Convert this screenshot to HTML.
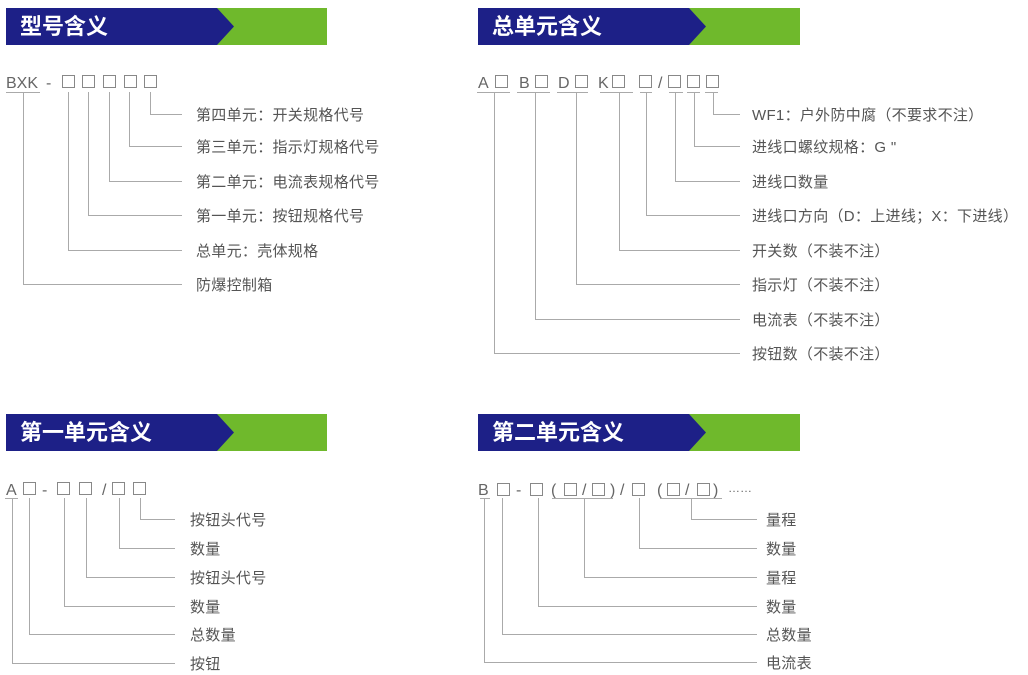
<!DOCTYPE html>
<html><head><meta charset="utf-8"><style>
html,body{margin:0;padding:0;background:#fff;}
svg{display:block;}
.t{font-family:"Liberation Sans","Noto Sans CJK SC",sans-serif;font-size:15px;fill:#555;letter-spacing:0.3px;}
.c{font-family:"Liberation Sans","Noto Sans CJK SC",sans-serif;font-size:16px;fill:#666;}
.h{font-family:"Liberation Sans","Noto Sans CJK SC",sans-serif;font-size:22px;font-weight:bold;fill:#fff;}
.l{stroke:#aaa;stroke-width:1;fill:none;}
.b{stroke:#888;stroke-width:1;fill:none;}
</style></head><body>
<svg width="1028" height="675" viewBox="0 0 1028 675" xmlns="http://www.w3.org/2000/svg">
<g>
<rect x="6" y="8" width="321" height="37" fill="#6fb92c"/>
<polygon points="6,8 217,8 234,26.5 217,45 6,45" fill="#1d2087"/>
<text class="h" x="20" y="34">型号含义</text>
</g>
<g>
<rect x="478" y="8" width="322" height="37" fill="#6fb92c"/>
<polygon points="478,8 689,8 706,26.5 689,45 478,45" fill="#1d2087"/>
<text class="h" x="492" y="34">总单元含义</text>
</g>
<g>
<rect x="6" y="414" width="321" height="37" fill="#6fb92c"/>
<polygon points="6,414 217,414 234,432.5 217,451 6,451" fill="#1d2087"/>
<text class="h" x="20" y="440">第一单元含义</text>
</g>
<g>
<rect x="478" y="414" width="322" height="37" fill="#6fb92c"/>
<polygon points="478,414 689,414 706,432.5 689,451 478,451" fill="#1d2087"/>
<text class="h" x="492" y="440">第二单元含义</text>
</g>

<!-- Section 1 -->
<text class="c" x="6" y="88">BXK</text>
<text class="c" x="46" y="88">-</text>
<rect class="b" x="62.5" y="75.5" width="12" height="12"/>
<rect class="b" x="82.5" y="75.5" width="12" height="12"/>
<rect class="b" x="103.5" y="75.5" width="12" height="12"/>
<rect class="b" x="124.5" y="75.5" width="12" height="12"/>
<rect class="b" x="144.5" y="75.5" width="12" height="12"/>
<line class="l" x1="6" y1="92.5" x2="40" y2="92.5"/>
<path class="l" d="M150.5 92 V114.5 H182"/>
<path class="l" d="M129.5 92 V146.5 H182"/>
<path class="l" d="M109.5 92 V181.5 H182"/>
<path class="l" d="M88.5 92 V215.5 H182"/>
<path class="l" d="M68.5 92 V250.5 H182"/>
<path class="l" d="M23.5 92 V284.5 H182"/>
<text class="t" x="196" y="120">第四单元：开关规格代号</text>
<text class="t" x="196" y="152">第三单元：指示灯规格代号</text>
<text class="t" x="196" y="187">第二单元：电流表规格代号</text>
<text class="t" x="196" y="221">第一单元：按钮规格代号</text>
<text class="t" x="196" y="256">总单元：壳体规格</text>
<text class="t" x="196" y="290">防爆控制箱</text>

<!-- Section 2 -->
<text class="c" x="478" y="88">A</text>
<rect class="b" x="495.5" y="75.5" width="12" height="12"/>
<text class="c" x="519" y="88">B</text>
<rect class="b" x="535.5" y="75.5" width="12" height="12"/>
<text class="c" x="558" y="88">D</text>
<rect class="b" x="575.5" y="75.5" width="12" height="12"/>
<text class="c" x="598" y="88">K</text>
<rect class="b" x="612.5" y="75.5" width="12" height="12"/>
<rect class="b" x="639.5" y="75.5" width="12" height="12"/>
<text class="c" x="658" y="88">/</text>
<rect class="b" x="668.5" y="75.5" width="12" height="12"/>
<rect class="b" x="687.5" y="75.5" width="12" height="12"/>
<rect class="b" x="706.5" y="75.5" width="12" height="12"/>
<line class="l" x1="477" y1="92.5" x2="510" y2="92.5"/>
<line class="l" x1="517" y1="92.5" x2="550" y2="92.5"/>
<line class="l" x1="557" y1="92.5" x2="588" y2="92.5"/>
<line class="l" x1="600" y1="92.5" x2="633" y2="92.5"/>
<line class="l" x1="640" y1="92.5" x2="652" y2="92.5"/>
<line class="l" x1="669" y1="92.5" x2="683" y2="92.5"/>
<line class="l" x1="687" y1="92.5" x2="700" y2="92.5"/>
<line class="l" x1="705" y1="92.5" x2="718" y2="92.5"/>
<path class="l" d="M713.5 92 V114.5 H740"/>
<path class="l" d="M694.5 92 V146.5 H740"/>
<path class="l" d="M675.5 92 V181.5 H740"/>
<path class="l" d="M646.5 92 V215.5 H740"/>
<path class="l" d="M619.5 92 V250.5 H740"/>
<path class="l" d="M576.5 92 V284.5 H740"/>
<path class="l" d="M535.5 92 V319.5 H740"/>
<path class="l" d="M494.5 92 V353.5 H740"/>
<text class="t" x="752" y="120">WF1：户外防中腐（不要求不注）</text>
<text class="t" x="752" y="152">进线口螺纹规格：G "</text>
<text class="t" x="752" y="187">进线口数量</text>
<text class="t" x="752" y="221">进线口方向（D：上进线；X：下进线）</text>
<text class="t" x="752" y="256">开关数（不装不注）</text>
<text class="t" x="752" y="290">指示灯（不装不注）</text>
<text class="t" x="752" y="325">电流表（不装不注）</text>
<text class="t" x="752" y="359">按钮数（不装不注）</text>

<!-- Section 3 -->
<text class="c" x="6" y="495">A</text>
<rect class="b" x="23.5" y="482.5" width="12" height="12"/>
<text class="c" x="42" y="495">-</text>
<rect class="b" x="57.5" y="482.5" width="12" height="12"/>
<rect class="b" x="79.5" y="482.5" width="12" height="12"/>
<text class="c" x="102" y="495">/</text>
<rect class="b" x="112.5" y="482.5" width="12" height="12"/>
<rect class="b" x="133.5" y="482.5" width="12" height="12"/>
<line class="l" x1="5" y1="498.5" x2="18" y2="498.5"/>
<path class="l" d="M140.5 498 V519.5 H175"/>
<path class="l" d="M119.5 498 V548.5 H175"/>
<path class="l" d="M86.5 498 V577.5 H175"/>
<path class="l" d="M64.5 498 V606.5 H175"/>
<path class="l" d="M29.5 498 V634.5 H175"/>
<path class="l" d="M12.5 498 V663.5 H175"/>
<text class="t" x="190" y="525">按钮头代号</text>
<text class="t" x="190" y="554">数量</text>
<text class="t" x="190" y="583">按钮头代号</text>
<text class="t" x="190" y="612">数量</text>
<text class="t" x="190" y="640">总数量</text>
<text class="t" x="190" y="669">按钮</text>

<!-- Section 4 -->
<text class="c" x="478" y="495">B</text>
<rect class="b" x="497.5" y="483.5" width="12" height="12"/>
<text class="c" x="516" y="495">-</text>
<rect class="b" x="530.5" y="483.5" width="12" height="12"/>
<text class="c" x="551" y="495">(</text>
<rect class="b" x="564.5" y="483.5" width="12" height="12"/>
<text class="c" x="582" y="495">/</text>
<rect class="b" x="592.5" y="483.5" width="12" height="12"/>
<text class="c" x="610" y="495">)</text>
<text class="c" x="620" y="495">/</text>
<rect class="b" x="632.5" y="483.5" width="12" height="12"/>
<text class="c" x="657" y="495">(</text>
<rect class="b" x="667.5" y="483.5" width="12" height="12"/>
<text class="c" x="685" y="495">/</text>
<rect class="b" x="697.5" y="483.5" width="12" height="12"/>
<text class="c" x="713" y="495">)</text>
<text class="c" x="728" y="492" style="font-size:12px">……</text>
<line class="l" x1="480" y1="498.5" x2="490" y2="498.5"/>
<line class="l" x1="552" y1="498.5" x2="613" y2="498.5"/>
<line class="l" x1="660" y1="498.5" x2="722" y2="498.5"/>
<path class="l" d="M691.5 498 V519.5 H757"/>
<path class="l" d="M639.5 498 V548.5 H757"/>
<path class="l" d="M584.5 498 V577.5 H757"/>
<path class="l" d="M538.5 498 V606.5 H757"/>
<path class="l" d="M502.5 498 V634.5 H757"/>
<path class="l" d="M484.5 498 V662.5 H757"/>
<text class="t" x="766" y="525">量程</text>
<text class="t" x="766" y="554">数量</text>
<text class="t" x="766" y="583">量程</text>
<text class="t" x="766" y="612">数量</text>
<text class="t" x="766" y="640">总数量</text>
<text class="t" x="766" y="668">电流表</text>
</svg>
</body></html>
